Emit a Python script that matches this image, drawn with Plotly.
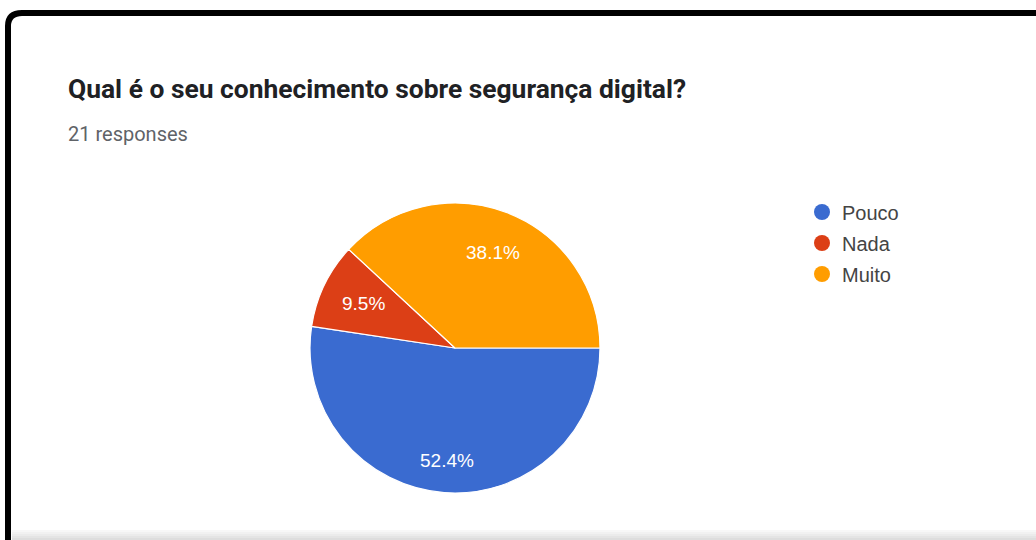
import math
import plotly.graph_objects as go

categories = ["Pouco", "Nada", "Muito"]
values = [11, 2, 8]
colors = ["#3a6bd0", "#dc3f16", "#ff9d00"]
title_text = "Qual é o seu conhecimento sobre segurança digital?"
subtitle_text = "21 responses"

W, H = 1036, 540
cx, cy, r = 455, 348, 145
label_radius = [0.78, 0.70, 0.71]  # fraction of radius where slice labels sit

fig = go.Figure()
fig.add_trace(go.Pie(
    labels=categories, values=values, sort=False, direction="clockwise",
    rotation=90, marker=dict(colors=colors, line=dict(color="white", width=1.2)),
    textinfo="none", showlegend=False, hoverinfo="label+percent",
    domain=dict(x=[(cx - r) / W, (cx + r) / W], y=[(H - cy - r) / H, (H - cy + r) / H]),
))
for i, c in enumerate(categories):
    fig.add_trace(go.Scatter(
        x=[None], y=[None], mode="markers", name=c, legendgroup=c,
        marker=dict(symbol="circle", size=20, color=colors[i]),
    ))

# slice percentage labels placed along each slice bisector (derived from values)
total = sum(values)
annotations = []
start = 0.0  # degrees, 3 o'clock, going clockwise
for i, v in enumerate(values):
    span = 360.0 * v / total
    mid = math.radians(-(start + span / 2))
    px = cx + label_radius[i] * r * math.cos(mid)
    py = cy - label_radius[i] * r * math.sin(mid)
    annotations.append(dict(
        text=f"{100 * v / total:.1f}%", x=px / W, y=1 - py / H, xref="paper", yref="paper",
        xanchor="center", yanchor="middle", showarrow=False,
        font=dict(family="Arial, Liberation Sans", size=19, color="white")))
    start += span

annotations += [
    dict(text=title_text, x=66 / W, y=1 - 89 / H, xref="paper", yref="paper",
         xanchor="left", yanchor="middle", showarrow=False,
         font=dict(family="Roboto", size=26.4, color="#202124", weight="bold")),
    dict(text=subtitle_text, x=66 / W, y=1 - 134 / H, xref="paper", yref="paper",
         xanchor="left", yanchor="middle", showarrow=False,
         font=dict(family="Roboto", size=20, color="#5f6368")),
]

shapes = [
    dict(type="path", xref="paper", yref="paper",
         path=f"M {8/W} 0 L {8/W} {1-26/H} Q {8/W} {1-13/H} {22/W} {1-13/H} L 1 {1-13/H}",
         line=dict(color="black", width=6)),
]
for k, g in enumerate(["#f7f7f7", "#f1f1f1", "#ebebeb", "#e4e4e4", "#dddddd"]):
    shapes.append(dict(type="rect", xref="paper", yref="paper", x0=12 / W, x1=1,
                       y0=0, y1=(10 - 2 * k) / H, fillcolor=g, line=dict(width=0),
                       layer="below"))

fig.update_layout(
    width=W, height=H, margin=dict(l=0, r=0, t=0, b=0),
    paper_bgcolor="white", plot_bgcolor="white",
    xaxis=dict(visible=False), yaxis=dict(visible=False),
    legend=dict(x=802 / W, y=1 - 192.5 / H, xanchor="left", yanchor="top",
                font=dict(family="Arial, Liberation Sans", size=20, color="#444444"),
                tracegroupgap=2, itemclick=False, bgcolor="rgba(0,0,0,0)"),
    annotations=annotations,
    shapes=shapes,
)
fig.write_html("out.html", config={"displayModeBar": False},
               post_script="document.body.style.margin='0px';")
